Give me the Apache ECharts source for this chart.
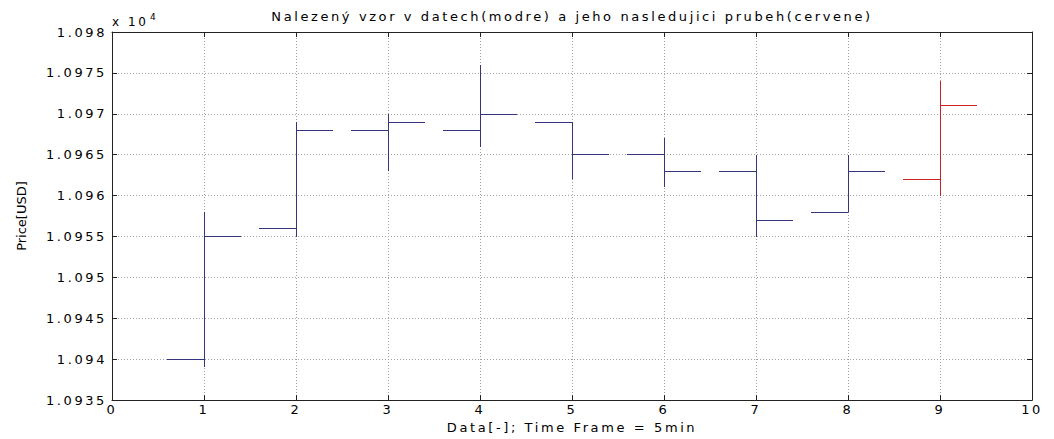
<!DOCTYPE html>
<html>
<head>
<meta charset="utf-8">
<script src="https://cdn.jsdelivr.net/npm/echarts@6/dist/echarts.min.js"></script>
<style>
  html, body { margin: 0; padding: 0; background: #fff; }
  #chart { width: 1054px; height: 439px; letter-spacing: 2.6px; }
</style>
</head>
<body>
<div id="chart"></div>
<script>
// ---- data ----
const positions = [1, 2, 3, 4, 5, 6, 7, 8, 9];
const opens  = [10940, 10956, 10968, 10968, 10969, 10965, 10963, 10958, 10962];
const highs  = [10958, 10969, 10970, 10976, 10969, 10967, 10965, 10965, 10974];
const lows   = [10939, 10955, 10963, 10966, 10962, 10961, 10955, 10958, 10960];
const closes = [10955, 10968, 10969, 10970, 10965, 10963, 10957, 10963, 10971];
const patternCount = 8; // first 8 bars = found pattern (blue), rest = continuation (red)

const titleText = 'Nalezený vzor v datech(modre) a jeho nasledujici prubeh(cervene)';
const xName = 'Data[-]; Time Frame = 5min';
const yName = 'Price[USD]';

const FONT = 'DejaVu Sans';
const FS = 13;
const TICK = 0.4;

function rows(from, to) {
  const out = [];
  for (let i = from; i < to; i++) out.push([positions[i], opens[i], highs[i], lows[i], closes[i]]);
  return out;
}

// same sub-pixel alignment rule ECharts uses for 1px axis / grid lines
function snap(v) {
  const d = Math.round(v * 2);
  return (d + 1) % 2 === 0 ? d / 2 : (d + 1) / 2;
}

function renderOHLC(params, api) {
  const x = api.value(0), o = api.value(1), h = api.value(2), l = api.value(3), c = api.value(4);
  const top = api.coord([x, h]), bot = api.coord([x, l]);
  const oL = api.coord([x - TICK, o]), oR = api.coord([x, o]);
  const cL = api.coord([x, c]), cR = api.coord([x + TICK, c]);
  const style = { stroke: api.visual('color'), lineWidth: 1, fill: null };
  const xm = snap(top[0]);
  return {
    type: 'group',
    children: [
      { type: 'line', shape: { x1: xm, y1: Math.round(top[1]), x2: xm, y2: Math.round(bot[1]) }, style: style },
      { type: 'line', shape: { x1: Math.round(oL[0]), y1: snap(oL[1]), x2: xm, y2: snap(oR[1]) }, style: style },
      { type: 'line', shape: { x1: xm, y1: snap(cL[1]), x2: Math.round(cR[0]), y2: snap(cR[1]) }, style: style }
    ]
  };
}

const axisLineStyle = { color: '#222', width: 1 };
const gridLine = { show: true, lineStyle: { color: '#a0a0a0', type: [1, 2], width: 1 } };

const chart = echarts.init(document.getElementById('chart'), null, { renderer: 'svg' });
chart.setOption({
  animation: false,
  backgroundColor: '#fff',
  title: {
    text: titleText,
    left: 572,
    top: 10,
    padding: 0,
    textAlign: 'center',
    textStyle: { fontFamily: FONT, fontSize: FS, fontWeight: 'normal', color: '#000' }
  },
  grid: { left: 112, right: 22, top: 32, bottom: 31, containLabel: false },
  xAxis: [
    {
      type: 'value', min: 0, max: 10, interval: 1, position: 'bottom',
      name: xName, nameLocation: 'middle', nameGap: 17,
      nameTextStyle: { fontFamily: FONT, fontSize: FS, color: '#000' },
      axisLine: { show: true, onZero: false, lineStyle: axisLineStyle },
      axisTick: { show: true, inside: true, length: 5, lineStyle: axisLineStyle },
      axisLabel: { fontFamily: FONT, fontSize: FS, color: '#000', margin: 3 },
      splitLine: gridLine
    },
    {
      type: 'value', min: 0, max: 10, interval: 1, position: 'top',
      axisLine: { show: true, onZero: false, lineStyle: axisLineStyle },
      axisTick: { show: true, inside: true, length: 5, lineStyle: axisLineStyle },
      axisLabel: { show: false },
      splitLine: { show: false }
    }
  ],
  yAxis: [
    {
      type: 'value', min: 10935, max: 10980, interval: 5, position: 'left',
      name: yName, nameLocation: 'middle', nameGap: 84, nameRotate: 90,
      nameTextStyle: { fontFamily: FONT, fontSize: FS, color: '#000' },
      axisLine: { show: true, onZero: false, lineStyle: axisLineStyle },
      axisTick: { show: true, inside: true, length: 5, lineStyle: axisLineStyle },
      axisLabel: {
        fontFamily: FONT, fontSize: FS, color: '#000', margin: 5,
        formatter: function (v) {
          return (v / 10000).toFixed(4).replace(/0+$/, '').replace(/\.$/, '');
        }
      },
      splitLine: gridLine
    },
    {
      type: 'value', min: 10935, max: 10980, interval: 5, position: 'right',
      axisLine: { show: true, onZero: false, lineStyle: axisLineStyle },
      axisTick: { show: true, inside: true, length: 5, lineStyle: axisLineStyle },
      axisLabel: { show: false },
      splitLine: { show: false }
    }
  ],
  graphic: [
    { type: 'text', left: 112, top: 16, style: { text: 'x 10', fontFamily: FONT, fontSize: 12, fill: '#000' } },
    { type: 'text', left: 150, top: 12, style: { text: '4', fontFamily: FONT, fontSize: 9, fill: '#000' } }
  ],
  series: [
    {
      name: 'pattern', type: 'custom', xAxisIndex: 0, yAxisIndex: 0, z: 5,
      itemStyle: { color: '#34347f' },
      encode: { x: 0, y: [1, 2, 3, 4] },
      renderItem: renderOHLC,
      data: rows(0, patternCount)
    },
    {
      name: 'continuation', type: 'custom', xAxisIndex: 0, yAxisIndex: 0, z: 5,
      itemStyle: { color: '#cc2222' },
      encode: { x: 0, y: [1, 2, 3, 4] },
      renderItem: renderOHLC,
      data: rows(patternCount, positions.length)
    }
  ]
});

function fixSpacing() {
  document.querySelectorAll('#chart text').forEach(function (t) {
    if (t.textContent === yName) t.style.letterSpacing = '0px';
  });
}
fixSpacing();
chart.on('finished', fixSpacing);
</script>
</body>
</html>
